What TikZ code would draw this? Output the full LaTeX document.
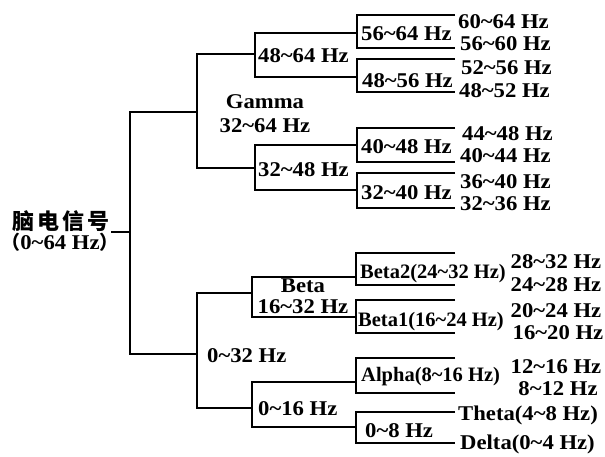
\documentclass[tikz,border=0pt]{standalone}
\usepackage{fontspec}
\setmainfont{Liberation Serif}[FakeStretch=1.08]
\newfontfamily\condfont{Liberation Serif}
\newfontfamily\cjk{Noto Sans CJK SC}
\newcommand{\tld}{\textasciitilde}
\begin{document}
\begin{tikzpicture}[x=1pt,y=-1pt,
  br/.style={line width=1.4pt, line join=miter},
  lbl/.style={anchor=west, inner sep=0pt, font=\fontsize{21}{23}\selectfont\bfseries, text height=14.2pt, text depth=0pt},
  lblc/.style={lbl, anchor=center},
  cond/.style={lbl, font=\fontsize{20.5}{23}\selectfont\condfont\bfseries},
  cjkl/.style={lbl, anchor=center, font=\fontsize{22}{24}\selectfont\cjk\bfseries, text height=15pt}
]
\useasboundingbox (0,0) rectangle (605,456);

% ---------- labels ----------
\node[cjkl] (root1) at (61,222) {脑\hspace{3pt}电\hspace{3pt}信\hspace{3pt}号};
\node[lblc] (root2) at (60,242) {{\cjk\bfseries\fontsize{19}{22}\selectfont （}\hspace{0pt}0\tld64 Hz\hspace{0pt}{\cjk\bfseries\fontsize{19}{22}\selectfont ）}};

\node[lblc] (gam1) at (265,101) {Gamma};
\node[lblc] (gam2) at (265,125) {32\tld64 Hz};
\node[lbl] (g48l) at (258,55) {48\tld64 Hz};
\node[lbl] (g56l) at (361,33) {56\tld64 Hz};
\node[lbl] (g4856l) at (362,80) {48\tld56 Hz};
\node[lbl] (g32l) at (258,169) {32\tld48 Hz};
\node[lbl] (g40l) at (361,146) {40\tld48 Hz};
\node[lbl] (g3240l) at (361,192) {32\tld40 Hz};

\node[lbl] (f1) at (458,21) {60\tld64 Hz};
\node[lbl] (f2) at (460,43) {56\tld60 Hz};
\node[lbl] (f3) at (461,67) {52\tld56 Hz};
\node[lbl] (f4) at (459,90) {48\tld52 Hz};
\node[lbl] (f5) at (462,133) {44\tld48 Hz};
\node[lbl] (f6) at (460,155) {40\tld44 Hz};
\node[lbl] (f7) at (460,181) {36\tld40 Hz};
\node[lbl] (f8) at (460,203) {32\tld36 Hz};

\node[lbl] (lowl) at (207,355) {0\tld32 Hz};
\node[lblc] (beta1l) at (303,285) {Beta};
\node[lblc] (beta2l) at (303,306) {16\tld32 Hz};
\node[cond] (b2l) at (360,271) {Beta2(24\tld32 Hz)};
\node[cond] (b1l) at (358,319) {Beta1(16\tld24 Hz)};
\node[cond] (al) at (361,374) {Alpha(8\tld16 Hz)};
\node[lbl] (l16l) at (258,408) {0\tld16 Hz};
\node[lbl] (l8l) at (365,430) {0\tld8 Hz};

\node[lblc] (f9) at (556,261) {28\tld32 Hz};
\node[lblc] (f10) at (556,284) {24\tld28 Hz};
\node[lblc] (f11) at (556,310) {20\tld24 Hz};
\node[lblc] (f12) at (558,332) {16\tld20 Hz};
\node[lblc] (f13) at (556,366) {12\tld16 Hz};
\node[lblc] (f14) at (558,388) {8\tld12 Hz};
\node[lbl] (f15) at (458,413) {Theta(4\tld8 Hz)};
\node[lbl] (f16) at (460,442) {Delta(0\tld4 Hz)};

% ---------- coordinates ----------
\coordinate (rs) at (111,232); \coordinate (rm) at (130,232);
\coordinate (rt) at (130,112); \coordinate (rb) at (130,354);
\coordinate (gin) at (197,112); \coordinate (lin) at (197,354);
% Gamma
\coordinate (gt) at (197,54); \coordinate (gb) at (197,168);
\coordinate (g48in) at (255,54); \coordinate (g32in) at (255,168);
\coordinate (g48t) at (255,33); \coordinate (g48b) at (255,77);
\coordinate (g56in) at (357,33); \coordinate (g4856in) at (357,77);
\coordinate (g56t) at (357,15); \coordinate (g56b) at (357,48);
\coordinate (g56te) at (455,15); \coordinate (g56be) at (455,48);
\coordinate (g4856t) at (357,59); \coordinate (g4856b) at (357,92);
\coordinate (g4856te) at (455,59); \coordinate (g4856be) at (455,92);
\coordinate (g32t) at (255,145); \coordinate (g32b) at (255,190);
\coordinate (g40in) at (357,145); \coordinate (g3240in) at (357,190);
\coordinate (g40t) at (357,128); \coordinate (g40b) at (357,162);
\coordinate (g40te) at (455,128); \coordinate (g40be) at (455,162);
\coordinate (g3240t) at (357,173); \coordinate (g3240b) at (357,208);
\coordinate (g3240te) at (455,173); \coordinate (g3240be) at (455,208);
% Low
\coordinate (lt) at (197,293); \coordinate (lb) at (197,408);
\coordinate (betain) at (252,293); \coordinate (l16in) at (252,408);
\coordinate (betat) at (252,277); \coordinate (betab) at (252,317);
\coordinate (b2in) at (356,277); \coordinate (b1in) at (356,317);
\coordinate (b2t) at (356,253); \coordinate (b2b) at (356,285);
\coordinate (b2te) at (455,253); \coordinate (b2be) at (455,285);
\coordinate (b1t) at (356,300); \coordinate (b1b) at (356,333);
\coordinate (b1te) at (455,300); \coordinate (b1be) at (455,333);
\coordinate (l16t) at (252,382); \coordinate (l16b) at (252,427);
\coordinate (ain) at (356,382); \coordinate (l8in) at (356,427);
\coordinate (at) at (356,358); \coordinate (ab) at (356,393);
\coordinate (ate) at (455,358); \coordinate (abe) at (455,393);
\coordinate (l8t) at (356,412); \coordinate (l8b) at (356,443);
\coordinate (l8te) at (455,412); \coordinate (l8be) at (455,443);

% ---------- brackets ----------
\draw[br] (rs) -- (rm);
\draw[br] (gin) -- (rt) -- (rb) -- (lin);
\draw[br] (g48in) -- (gt) -- (gb) -- (g32in);
\draw[br] (g56in) -- (g48t) -- (g48b) -- (g4856in);
\draw[br] (g56te) -- (g56t) -- (g56b) -- (g56be);
\draw[br] (g4856te) -- (g4856t) -- (g4856b) -- (g4856be);
\draw[br] (g40in) -- (g32t) -- (g32b) -- (g3240in);
\draw[br] (g40te) -- (g40t) -- (g40b) -- (g40be);
\draw[br] (g3240te) -- (g3240t) -- (g3240b) -- (g3240be);
\draw[br] (betain) -- (lt) -- (lb) -- (l16in);
\draw[br] (b2in) -- (betat) -- (betab) -- (b1in);
\draw[br] (b2te) -- (b2t) -- (b2b) -- (b2be);
\draw[br] (b1te) -- (b1t) -- (b1b) -- (b1be);
\draw[br] (ain) -- (l16t) -- (l16b) -- (l8in);
\draw[br] (ate) -- (at) -- (ab) -- (abe);
\draw[br] (l8te) -- (l8t) -- (l8b) -- (l8be);
\end{tikzpicture}
\end{document}
